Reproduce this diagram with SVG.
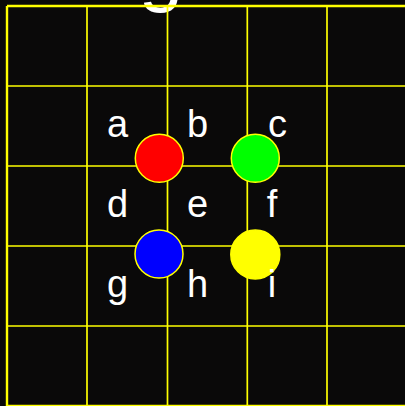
<svg xmlns="http://www.w3.org/2000/svg" width="405" height="406" viewBox="0 0 405 406">
<style>
.grid line{stroke:#ffff00;stroke-width:1.7}
.lbl{font-family:"Liberation Sans",Arial,sans-serif;font-size:38px;fill:#ffffff;text-anchor:middle}
.stone{stroke:#ffff00;stroke-width:1.5}
</style>
<rect x="0" y="0" width="405" height="406" fill="#0a0909"/>
<text x="161" y="-4" style="font-family:'Liberation Sans',Arial,sans-serif;font-size:80px;fill:#ffffff;text-anchor:middle">g</text>
<g id="grid" class="grid">
<line x1="7" y1="6" x2="7" y2="406" style="stroke-width:2.4"/>
<line x1="87" y1="6" x2="87" y2="406"/>
<line x1="167.5" y1="6" x2="167.5" y2="406"/>
<line x1="247.3" y1="6" x2="247.3" y2="406"/>
<line x1="327" y1="6" x2="327" y2="406"/>
<line x1="7" y1="6" x2="405" y2="6" style="stroke-width:2.4"/>
<line x1="7" y1="86" x2="405" y2="86"/>
<line x1="7" y1="166" x2="405" y2="166"/>
<line x1="7" y1="246" x2="405" y2="246"/>
<line x1="7" y1="326" x2="405" y2="326"/>
<line x1="7" y1="405.5" x2="405" y2="405.5"/>
</g>
<g id="stone-red"><circle class="stone" cx="159.3" cy="158.3" r="24" fill="#ff0000"/></g>
<g id="stone-green"><circle class="stone" cx="255.3" cy="158.3" r="24" fill="#00ff00"/></g>
<g id="stone-blue"><circle class="stone" cx="159" cy="254" r="24" fill="#0000ff"/></g>
<g id="stone-yellow"><circle class="stone" cx="255.3" cy="254.5" r="24.5" fill="#ffff00"/></g>
<g id="labels">
<text class="lbl" x="117.5" y="137">a</text>
<text class="lbl" x="197.5" y="137">b</text>
<text class="lbl" x="277.5" y="137">c</text>
<text class="lbl" x="117.5" y="217">d</text>
<text class="lbl" x="197.5" y="217">e</text>
<text class="lbl" x="272" y="217">f</text>
<text class="lbl" x="117.5" y="297">g</text>
<text class="lbl" x="197.5" y="297">h</text>
<text class="lbl" x="272" y="297">i</text>
</g>
</svg>
